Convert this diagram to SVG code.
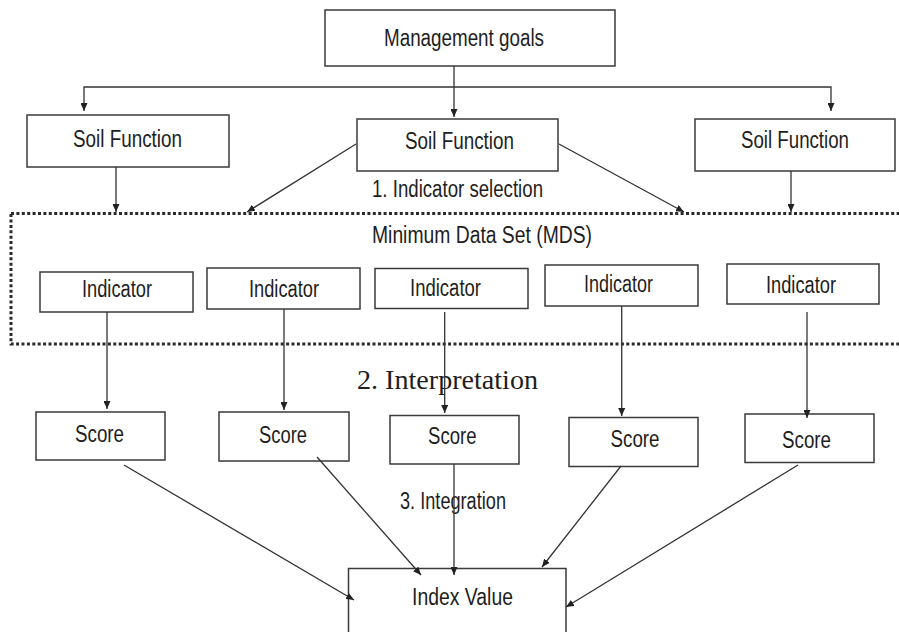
<svg xmlns="http://www.w3.org/2000/svg" width="899" height="632" viewBox="0 0 899 632">
  <style>
    .box { fill: #ffffff; stroke: #3a3a3a; stroke-width: 1.5; }
    .lbl { font-family: "Liberation Sans", Arial, sans-serif; font-size: 23px; fill: #1e1e1e; }
    .serif { font-family: "Liberation Serif", "Times New Roman", serif; font-size: 27px; fill: #1e1e1e; }
    .conn { fill: none; stroke: #333333; stroke-width: 1.3; marker-end: url(#arrow); }
    .mds { fill: none; stroke: #2a2a2a; stroke-width: 3; stroke-dasharray: 3 2.4; }
  </style>
  <defs>
    <marker id="arrow" viewBox="0 0 8 7" refX="8" refY="3.5" markerWidth="8" markerHeight="7" markerUnits="userSpaceOnUse" orient="auto">
      <path d="M0,0 L8,3.5 L0,7 z" fill="#222222"/>
    </marker>
  </defs>

  <rect x="0" y="0" width="899" height="632" fill="#ffffff"/>

  <!-- Minimum Data Set frame (dotted, runs off the right edge) -->
  <g id="mds-frame">
    <rect class="mds" x="11" y="213.5" width="900" height="130.5"/>
    <text class="lbl" x="372" y="243" textLength="220" lengthAdjust="spacingAndGlyphs">Minimum Data Set (MDS)</text>
  </g>

  <!-- step labels -->
  <g id="step-labels">
    <text class="lbl" x="372" y="197" textLength="171" lengthAdjust="spacingAndGlyphs">1. Indicator selection</text>
    <text class="serif" x="357" y="389" textLength="181" lengthAdjust="spacingAndGlyphs">2. Interpretation</text>
    <text class="lbl" x="400" y="509" textLength="106" lengthAdjust="spacingAndGlyphs">3. Integration</text>
  </g>

  <g id="management-goals">
    <rect class="box" x="325" y="10" width="290" height="56"/>
    <text class="lbl" x="384" y="46" textLength="160" lengthAdjust="spacingAndGlyphs">Management goals</text>
  </g>

  <g id="soil-function-1">
    <rect class="box" x="27" y="115" width="202" height="52"/>
    <text class="lbl" x="73" y="147" textLength="109" lengthAdjust="spacingAndGlyphs">Soil Function</text>
  </g>
  <g id="soil-function-2">
    <rect class="box" x="357" y="119" width="201" height="52"/>
    <text class="lbl" x="405" y="149" textLength="109" lengthAdjust="spacingAndGlyphs">Soil Function</text>
  </g>
  <g id="soil-function-3">
    <rect class="box" x="695" y="119" width="200" height="52"/>
    <text class="lbl" x="741" y="148" textLength="108" lengthAdjust="spacingAndGlyphs">Soil Function</text>
  </g>

  <g id="indicator-1">
    <rect class="box" x="40" y="272" width="153" height="40"/>
    <text class="lbl" x="82" y="297" textLength="70" lengthAdjust="spacingAndGlyphs">Indicator</text>
  </g>
  <g id="indicator-2">
    <rect class="box" x="207" y="268" width="153" height="41"/>
    <text class="lbl" x="249" y="296.5" textLength="70" lengthAdjust="spacingAndGlyphs">Indicator</text>
  </g>
  <g id="indicator-3">
    <rect class="box" x="375" y="268.5" width="153" height="40"/>
    <text class="lbl" x="410" y="296" textLength="71" lengthAdjust="spacingAndGlyphs">Indicator</text>
  </g>
  <g id="indicator-4">
    <rect class="box" x="545" y="265" width="153" height="41"/>
    <text class="lbl" x="584" y="292" textLength="69" lengthAdjust="spacingAndGlyphs">Indicator</text>
  </g>
  <g id="indicator-5">
    <rect class="box" x="727" y="264" width="152" height="40"/>
    <text class="lbl" x="766" y="293" textLength="70" lengthAdjust="spacingAndGlyphs">Indicator</text>
  </g>

  <g id="score-1">
    <rect class="box" x="36" y="412" width="129" height="48"/>
    <text class="lbl" x="75" y="442" textLength="49" lengthAdjust="spacingAndGlyphs">Score</text>
  </g>
  <g id="score-2">
    <rect class="box" x="219" y="412" width="130" height="49"/>
    <text class="lbl" x="259" y="442.5" textLength="48" lengthAdjust="spacingAndGlyphs">Score</text>
  </g>
  <g id="score-3">
    <rect class="box" x="390" y="415.5" width="129" height="48.5"/>
    <text class="lbl" x="428" y="444" textLength="48.5" lengthAdjust="spacingAndGlyphs">Score</text>
  </g>
  <g id="score-4">
    <rect class="box" x="569" y="417.5" width="129" height="49"/>
    <text class="lbl" x="610.5" y="446.5" textLength="49" lengthAdjust="spacingAndGlyphs">Score</text>
  </g>
  <g id="score-5">
    <rect class="box" x="745" y="414" width="129" height="48.5"/>
    <text class="lbl" x="782" y="448" textLength="49" lengthAdjust="spacingAndGlyphs">Score</text>
  </g>

  <g id="index-value">
    <rect class="box" x="348.5" y="568.5" width="217.5" height="80"/>
    <text class="lbl" x="412" y="605" textLength="101" lengthAdjust="spacingAndGlyphs">Index Value</text>
  </g>

  <!-- connectors, drawn last so arrowheads sit on top of the boxes -->
  <g id="connectors">
    <path class="conn" d="M454,66 V117"/>
    <path class="conn" d="M454,87 H84 V111"/>
    <path class="conn" d="M454,87 H831 V111"/>
    <path class="conn" d="M116,167 V212"/>
    <path class="conn" d="M356,144 L247,212"/>
    <path class="conn" d="M559,144 L684,212"/>
    <path class="conn" d="M791,171 V212"/>

    <path class="conn" d="M107,312 V409"/>
    <path class="conn" d="M284,309 V410"/>
    <path class="conn" d="M444.7,312 V413"/>
    <path class="conn" d="M621.7,306 V416"/>
    <path class="conn" d="M807,312 V418"/>

    <path class="conn" d="M124,465 L354,600"/>
    <path class="conn" d="M317,457 L421,575"/>
    <path class="conn" d="M454,464 V575"/>
    <path class="conn" d="M621,466 L542,567"/>
    <path class="conn" d="M798,465 L566,607"/>
  </g>
</svg>
